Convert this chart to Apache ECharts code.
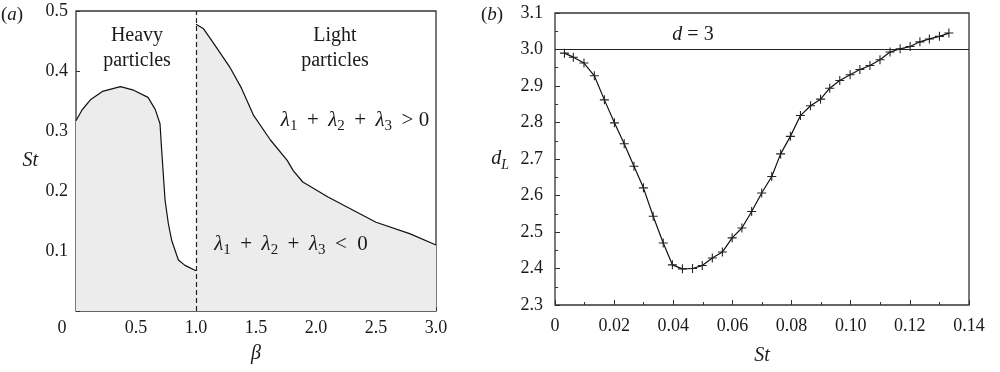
<!DOCTYPE html>
<html>
<head>
<meta charset="utf-8">
<script src="https://cdn.jsdelivr.net/npm/echarts@6/dist/echarts.min.js"></script>
<style>html,body{margin:0;padding:0;background:#fff}#c{width:1000px;height:372px}</style>
</head>
<body>
<div id="c"></div>
<script>
// Panel (a): boundary St(beta)
const heavyBeta = [0, 0.05, 0.12, 0.22, 0.37, 0.48, 0.6, 0.66, 0.70, 0.714, 0.742, 0.77, 0.797, 0.853, 0.908, 1.0];
const heavySt   = [0.317, 0.335, 0.352, 0.366, 0.374, 0.368, 0.356, 0.336, 0.312, 0.268, 0.185, 0.145, 0.118, 0.085, 0.076, 0.067];
const lightBeta = [1.0, 1.06, 1.14, 1.28, 1.38, 1.48, 1.62, 1.76, 1.81, 1.89, 2.1, 2.31, 2.5, 2.78, 3.0];
const lightSt   = [0.478, 0.471, 0.448, 0.407, 0.371, 0.326, 0.285, 0.251, 0.234, 0.215, 0.19, 0.168, 0.148, 0.129, 0.11];
const boundaryBeta = 1;

// Panel (b): Lyapunov dimension d_L vs St
const stB = [0.0032, 0.0062, 0.0098, 0.0133, 0.0167, 0.0201, 0.0234, 0.0267, 0.0299, 0.0332,
             0.0366, 0.0397, 0.0431, 0.0465, 0.0498, 0.0532, 0.0566, 0.0599, 0.0632, 0.0665,
             0.0699, 0.0733, 0.0763, 0.0796, 0.0830, 0.0864, 0.0898, 0.0929, 0.0963, 0.0998,
             0.1031, 0.1065, 0.1099, 0.1133, 0.1167, 0.1201, 0.1234, 0.1266, 0.1300, 0.1332];
const dL  = [2.990, 2.979, 2.963, 2.928, 2.862, 2.799, 2.742, 2.680, 2.621, 2.543,
             2.470, 2.410, 2.399, 2.400, 2.408, 2.429, 2.445, 2.484, 2.511, 2.556,
             2.607, 2.652, 2.714, 2.762, 2.819, 2.846, 2.864, 2.894, 2.915, 2.931,
             2.945, 2.956, 2.972, 2.993, 3.002, 3.008, 3.021, 3.029, 3.036, 3.045];
const refDim = 3;

const FONT = '"Liberation Serif", "Times New Roman", serif';
const AX = '#333';
const TXT = '#1a1a1a';
const FILL = '#ececec';
const plus = 'path://M4.4,0H5.6V4.4H10V5.6H5.6V10H4.4V5.6H0V4.4H4.4Z';
const TS = '\u2009';

const chart = echarts.init(document.getElementById('c'), null, {renderer: 'canvas'});
const lab = {fontFamily: FONT, fontSize: 18, color: TXT};
const R = (size, italic) => ({fontFamily: FONT, fontSize: size, fontStyle: italic ? 'italic' : 'normal', fill: TXT});
const lamRich = {l: R(21, true), o: R(21, false),
                 s: Object.assign(R(15, false), {padding: [12, 0, 0, 0]})};
const PLUS = `{o| ${TS}+${TS} }`;

chart.setOption({
  animation: false,
  backgroundColor: '#fff',
  grid: [
    {left: 76, top: 11, width: 360, height: 300, show: true, borderColor: AX, borderWidth: 1.3, backgroundColor: 'transparent'},
    {left: 555, top: 13, width: 414, height: 292, show: true, borderColor: AX, borderWidth: 1.3, backgroundColor: 'transparent'}
  ],
  xAxis: [
    {gridIndex: 0, type: 'value', min: 0, max: 3, interval: 0.5,
     axisLine: {show: false}, splitLine: {show: false},
     axisTick: {inside: true, length: 4, lineStyle: {color: AX}},
     axisLabel: {margin: 8, ...lab,
       formatter: v => v === 0 ? '{z|0}' : v.toFixed(1),
       rich: {z: {fontFamily: FONT, fontSize: 18, color: TXT, padding: [0, 28, 0, 0]}}},
     name: 'β', nameLocation: 'middle', nameGap: 33,
     nameTextStyle: {fontFamily: FONT, fontSize: 20, fontStyle: 'italic', color: TXT}},
    {gridIndex: 1, type: 'value', min: 0, max: 0.14, interval: 0.02,
     axisLine: {show: false}, splitLine: {show: false},
     axisTick: {inside: true, length: 5, lineStyle: {color: AX}},
     minorTick: {show: true, splitNumber: 2, length: 3, lineStyle: {color: AX}},
     axisLabel: {margin: 12, ...lab, formatter: v => v === 0 ? '0' : v.toFixed(2)},
     name: 'St', nameLocation: 'middle', nameGap: 41,
     nameTextStyle: {fontFamily: FONT, fontSize: 20, fontStyle: 'italic', color: TXT}}
  ],
  yAxis: [
    {gridIndex: 0, type: 'value', min: 0, max: 0.5, interval: 0.1,
     axisLine: {show: false}, splitLine: {show: false},
     axisTick: {inside: true, length: 4, lineStyle: {color: AX}},
     axisLabel: {margin: 8, ...lab, formatter: v => v === 0 ? '' : v.toFixed(1)},
     name: 'St', nameLocation: 'middle', nameRotate: 0, nameGap: 38,
     nameTextStyle: {fontFamily: FONT, fontSize: 20, fontStyle: 'italic', color: TXT}},
    {gridIndex: 1, type: 'value', min: 2.3, max: 3.1, interval: 0.1,
     axisLine: {show: false}, splitLine: {show: false},
     axisTick: {inside: true, length: 5, lineStyle: {color: AX}},
     minorTick: {show: true, splitNumber: 2, length: 3, lineStyle: {color: AX}},
     axisLabel: {margin: 12, ...lab, formatter: v => v.toFixed(1)},
     name: '{d|d}{s|L}', nameLocation: 'middle', nameRotate: 0, nameGap: 46,
     nameTextStyle: {fontFamily: FONT, fontSize: 20, fontStyle: 'italic', color: TXT,
       rich: {d: {fontFamily: FONT, fontSize: 20, fontStyle: 'italic', color: TXT},
              s: {fontFamily: FONT, fontSize: 14, fontStyle: 'italic', color: TXT, padding: [12, 0, 0, 0]}}}}
  ],
  series: [
    {type: 'line', xAxisIndex: 0, yAxisIndex: 0, symbol: 'none', silent: true,
     data: heavyBeta.map((b, i) => [b, heavySt[i]]),
     lineStyle: {color: '#111', width: 1.2}, areaStyle: {color: FILL, opacity: 1},
     markLine: {silent: true, symbol: 'none', label: {show: false},
       lineStyle: {color: '#222', width: 1.2, type: [5, 3]},
       data: [{xAxis: boundaryBeta}]}},
    {type: 'line', xAxisIndex: 0, yAxisIndex: 0, symbol: 'none', silent: true,
     data: lightBeta.map((b, i) => [b, lightSt[i]]),
     lineStyle: {color: '#111', width: 1.2}, areaStyle: {color: FILL, opacity: 1}},
    {type: 'line', xAxisIndex: 1, yAxisIndex: 1, symbol: plus, symbolSize: 9, silent: true,
     data: stB.map((s, i) => [s, dL[i]]),
     itemStyle: {color: '#222'},
     lineStyle: {color: '#111', width: 1.2},
     markLine: {silent: true, symbol: 'none', label: {show: false},
       lineStyle: {color: '#222', width: 1.2, type: 'solid'},
       data: [{yAxis: refDim}]}}
  ],
  graphic: [
    {type: 'text', z: 100, x: 12, y: 15, style: {text: '{p|(}{i|a}{p|)}', textAlign: 'center', textVerticalAlign: 'middle',
      rich: {p: R(19, false), i: R(19, true)}}},
    {type: 'text', z: 100, x: 492, y: 15, style: {text: '{p|(}{i|b}{p|)}', textAlign: 'center', textVerticalAlign: 'middle',
      rich: {p: R(19, false), i: R(19, true)}}},
    {type: 'text', z: 100, x: 137, y: 48, style: {text: '{t|Heavy}\n{t|particles}', textAlign: 'center', textVerticalAlign: 'middle',
      rich: {t: Object.assign(R(20, false), {lineHeight: 25})}}},
    {type: 'text', z: 100, x: 335, y: 48, style: {text: '{t|Light}\n{t|particles}', textAlign: 'center', textVerticalAlign: 'middle',
      rich: {t: Object.assign(R(20, false), {lineHeight: 25})}}},
    {type: 'text', z: 100, x: 355, y: 120, style: {text: `{l|λ}{s|1}${PLUS}{l|λ}{s|2}${PLUS}{l|λ}{s|3}{o| ${TS}> 0}`,
      textAlign: 'center', textVerticalAlign: 'middle', rich: lamRich}},
    {type: 'text', z: 100, x: 291, y: 244, style: {text: `{l|λ}{s|1}${PLUS}{l|λ}{s|2}${PLUS}{l|λ}{s|3}{o| ${TS}<  0}`,
      textAlign: 'center', textVerticalAlign: 'middle', rich: lamRich}},
    {type: 'text', z: 100, x: 693, y: 35, style: {text: '{i|d}{o| = 3}', textAlign: 'center', textVerticalAlign: 'middle',
      rich: {i: R(20, true), o: R(20, false)}}}
  ]
});
</script>
</body>
</html>
